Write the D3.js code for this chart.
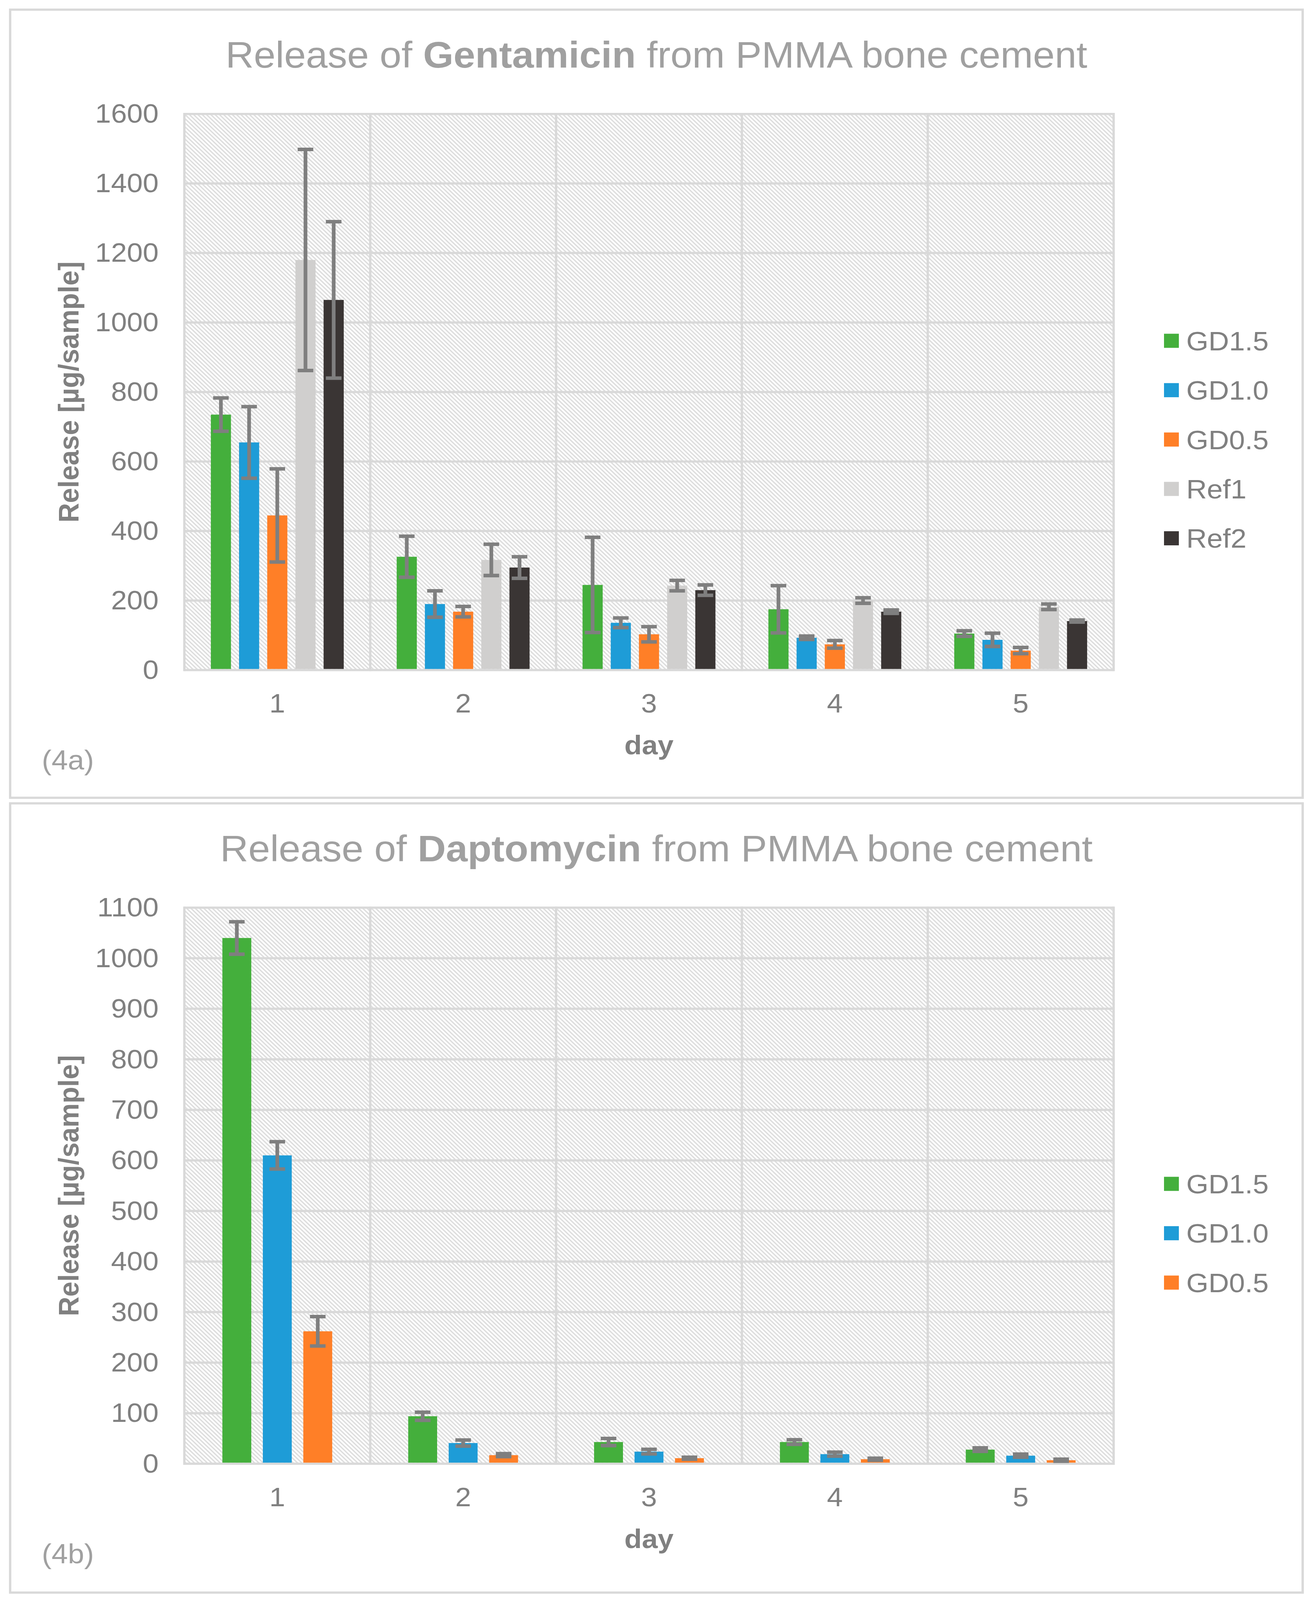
<!DOCTYPE html>
<html>
<head>
<meta charset="utf-8">
<script src="https://cdn.jsdelivr.net/npm/d3@7"></script>
<style>
  html, body { margin: 0; padding: 0; background: #fff; overflow: hidden; }
</style>
</head>
<body>
<div id="chart"></div>
<script>
// ---- data ----
const days = ["1", "2", "3", "4", "5"];

// Gentamicin release (µg/sample), mean and SD
const gentGD15 = [735, 326, 245, 175, 105];
const gentGD15Sd = [48, 59, 137, 68, 8];
const gentGD10 = [655, 190, 136, 93, 87];
const gentGD10Sd = [103, 38, 14, 5, 19];
const gentGD05 = [445, 168, 103, 74, 56];
const gentGD05Sd = [134, 15, 22, 11, 9];
const gentRef1 = [1180, 317, 243, 200, 182];
const gentRef1Sd = [318, 45, 15, 8, 8];
const gentRef2 = [1065, 295, 230, 168, 141];
const gentRef2Sd = [225, 31, 15, 5, 3];
const gentTicks = [0, 200, 400, 600, 800, 1000, 1200, 1400, 1600];

// Daptomycin release (µg/sample), mean and SD
const dapGD15 = [1040, 94, 43, 43, 28];
const dapGD15Sd = [32, 8, 7, 4.5, 3.5];
const dapGD10 = [610, 41, 24, 19, 16];
const dapGD10Sd = [27, 6, 4.5, 4, 3];
const dapGD05 = [262, 17, 11, 9, 7];
const dapGD05Sd = [29, 3, 2, 2, 2];
const dapTicks = [0, 100, 200, 300, 400, 500, 600, 700, 800, 900, 1000, 1100];

const seriesColor = {
    "GD1.5": "#44af3c",
    "GD1.0": "#1e9cd7",
    "GD0.5": "#ff7f27",
    "Ref1": "#d0cfce",
    "Ref2": "#3a3534"
};

const gentSeries = [
    { name: "GD1.5", values: gentGD15, sd: gentGD15Sd },
    { name: "GD1.0", values: gentGD10, sd: gentGD10Sd },
    { name: "GD0.5", values: gentGD05, sd: gentGD05Sd },
    { name: "Ref1", values: gentRef1, sd: gentRef1Sd },
    { name: "Ref2", values: gentRef2, sd: gentRef2Sd }
];
const dapSeries = [
    { name: "GD1.5", values: dapGD15, sd: dapGD15Sd },
    { name: "GD1.0", values: dapGD10, sd: dapGD10Sd },
    { name: "GD0.5", values: dapGD05, sd: dapGD05Sd }
];

// ---- layout ----
const W = 3364, H = 4310;
const FONT = "'Liberation Sans', Arial, Helvetica, sans-serif";
const GRID = "#d9d9d9";
const TEXT = "#808080";
const LIGHT_TEXT = "#a0a0a0";
const panelLeft = 26, panelRight = 3335;
const plotLeft = 472, plotRight = 2851;

// fit the whole figure into the visible window
const vw = window.innerWidth > 100 ? window.innerWidth : W;
const vh = window.innerHeight > 100 ? window.innerHeight : H;

const svg = d3.select("#chart").append("svg")
    .attr("width", vw)
    .attr("height", vh)
    .attr("viewBox", `0 0 ${W} ${H}`)
    .attr("preserveAspectRatio", "none")
    .style("display", "block")
    .style("background", "#fff");

// diagonal hatch used as plot area background
const defs = svg.append("defs");
const hatch = defs.append("pattern")
    .attr("id", "hatch")
    .attr("patternUnits", "userSpaceOnUse")
    .attr("width", 11)
    .attr("height", 11);
hatch.append("rect").attr("width", 11).attr("height", 11).attr("fill", "#fff");
hatch.append("path")
    .attr("d", "M0,0 L11,11 M-5.5,5.5 L5.5,16.5 M5.5,-5.5 L16.5,5.5")
    .attr("stroke", "#dddddd")
    .attr("stroke-width", 3.5);

function drawPanel(top, bottom, drug, series, ticks, tag) {
    const g = svg.append("g");
    const plotTop = top + 281, plotBottom = top + 1779;

    // panel frame
    g.append("rect")
        .attr("x", panelLeft).attr("y", top)
        .attr("width", panelRight - panelLeft)
        .attr("height", bottom - top)
        .attr("fill", "#fff")
        .attr("stroke", GRID)
        .attr("stroke-width", 6);

    // title
    const title = g.append("text")
        .attr("x", (panelLeft + panelRight) / 2)
        .attr("y", top + 156)
        .attr("text-anchor", "middle")
        .attr("font-family", FONT)
        .attr("font-size", 100)
        .attr("fill", LIGHT_TEXT)
        .style("white-space", "pre");
    title.append("tspan").text("Release of ");
    title.append("tspan").attr("font-weight", "bold").text(drug);
    title.append("tspan").text(" from PMMA bone cement");

    const x = d3.scaleBand().domain(days).range([plotLeft, plotRight]).padding(0);
    const y = d3.scaleLinear().domain([0, d3.max(ticks)]).range([plotBottom, plotTop]);

    // plot background
    g.append("rect")
        .attr("x", plotLeft).attr("y", plotTop)
        .attr("width", plotRight - plotLeft)
        .attr("height", plotBottom - plotTop)
        .attr("fill", "url(#hatch)");

    // horizontal gridlines
    g.selectAll(".hgrid")
        .data(ticks)
        .join("line")
        .attr("x1", plotLeft).attr("x2", plotRight)
        .attr("y1", d => y(d)).attr("y2", d => y(d))
        .attr("stroke", GRID)
        .attr("stroke-width", 6);

    // vertical gridlines at category boundaries
    const edges = days.map(d => x(d)).concat([x(days[days.length - 1]) + x.bandwidth()]);
    g.selectAll(".vgrid")
        .data(edges)
        .join("line")
        .attr("x1", d => d).attr("x2", d => d)
        .attr("y1", plotTop - 3).attr("y2", plotBottom + 3)
        .attr("stroke", GRID)
        .attr("stroke-width", 6);

    // bar geometry: overlap -40%, gap width ~263%
    const n = series.length;
    const barW = x.bandwidth() / (1.4 * n - 0.4 + 2.63);
    const step = barW * 1.4;
    const barX = (d, i) => x(d) + x.bandwidth() / 2 + (i - (n - 1) / 2) * step - barW / 2;

    const rows = [];
    series.forEach((s, i) => {
        days.forEach((d, j) => {
            rows.push({ day: d, idx: i, name: s.name, value: s.values[j], sd: s.sd[j] });
        });
    });

    g.selectAll("rect.bar")
        .data(rows)
        .join("rect")
        .attr("class", "bar")
        .attr("x", d => barX(d.day, d.idx))
        .attr("y", d => y(d.value))
        .attr("width", barW)
        .attr("height", d => plotBottom - 3 - y(d.value))
        .attr("fill", d => seriesColor[d.name]);

    // error bars
    const capW = 40;
    const err = g.selectAll("g.err")
        .data(rows)
        .join("g")
        .attr("class", "err")
        .attr("stroke", "#7f7f7f")
        .attr("stroke-width", 9.5);
    err.append("line")
        .attr("x1", d => barX(d.day, d.idx) + barW / 2)
        .attr("x2", d => barX(d.day, d.idx) + barW / 2)
        .attr("y1", d => y(d.value - d.sd))
        .attr("y2", d => y(d.value + d.sd));
    err.append("line")
        .attr("x1", d => barX(d.day, d.idx) + barW / 2 - capW / 2)
        .attr("x2", d => barX(d.day, d.idx) + barW / 2 + capW / 2)
        .attr("y1", d => y(d.value + d.sd))
        .attr("y2", d => y(d.value + d.sd));
    err.append("line")
        .attr("x1", d => barX(d.day, d.idx) + barW / 2 - capW / 2)
        .attr("x2", d => barX(d.day, d.idx) + barW / 2 + capW / 2)
        .attr("y1", d => y(d.value - d.sd))
        .attr("y2", d => y(d.value - d.sd));

    // axes (labels only)
    const yAxis = g.append("g")
        .attr("transform", `translate(${plotLeft},0)`)
        .call(d3.axisLeft(y).tickValues(ticks).tickFormat(d3.format("d")).tickSize(0).tickPadding(66));
    const xAxis = g.append("g")
        .attr("transform", `translate(0,${plotBottom})`)
        .call(d3.axisBottom(x).tickSize(0).tickPadding(63));
    [yAxis, xAxis].forEach(a => {
        a.select(".domain").remove();
        a.attr("font-family", FONT).attr("font-size", 73);
        a.selectAll("text").attr("fill", TEXT);
    });

    // axis titles
    g.append("text")
        .attr("transform", `translate(201,${(plotTop + plotBottom) / 2}) rotate(-90)`)
        .attr("text-anchor", "middle")
        .attr("font-family", FONT)
        .attr("font-size", 73)
        .attr("font-weight", "bold")
        .attr("fill", TEXT)
        .text("Release [µg/sample]");
    g.append("text")
        .attr("x", (plotLeft + plotRight) / 2)
        .attr("y", plotBottom + 227)
        .attr("text-anchor", "middle")
        .attr("font-family", FONT)
        .attr("font-size", 73)
        .attr("font-weight", "bold")
        .attr("fill", TEXT)
        .text("day");

    // panel tag
    g.append("text")
        .attr("x", 107)
        .attr("y", plotBottom + 268)
        .attr("font-family", FONT)
        .attr("font-size", 75)
        .attr("fill", LIGHT_TEXT)
        .text(tag);

    // legend
    const legendMid = top + 1158;
    const legend = g.selectAll("g.legend")
        .data(series)
        .join("g")
        .attr("class", "legend")
        .attr("transform", (d, i) => `translate(2980,${legendMid + (i - (n - 1) / 2) * 133})`);
    legend.append("rect")
        .attr("x", 0).attr("y", -19)
        .attr("width", 38).attr("height", 38)
        .attr("fill", d => seriesColor[d.name]);
    legend.append("text")
        .attr("x", 57)
        .attr("dy", "0.35em")
        .attr("font-family", FONT)
        .attr("font-size", 73)
        .attr("fill", TEXT)
        .text(d => d.name);
}

drawPanel(26, 2149, "Gentamicin", gentSeries, gentTicks, "(4a)");
drawPanel(2164, 4290, "Daptomycin", dapSeries, dapTicks, "(4b)");
</script>
</body>
</html>
